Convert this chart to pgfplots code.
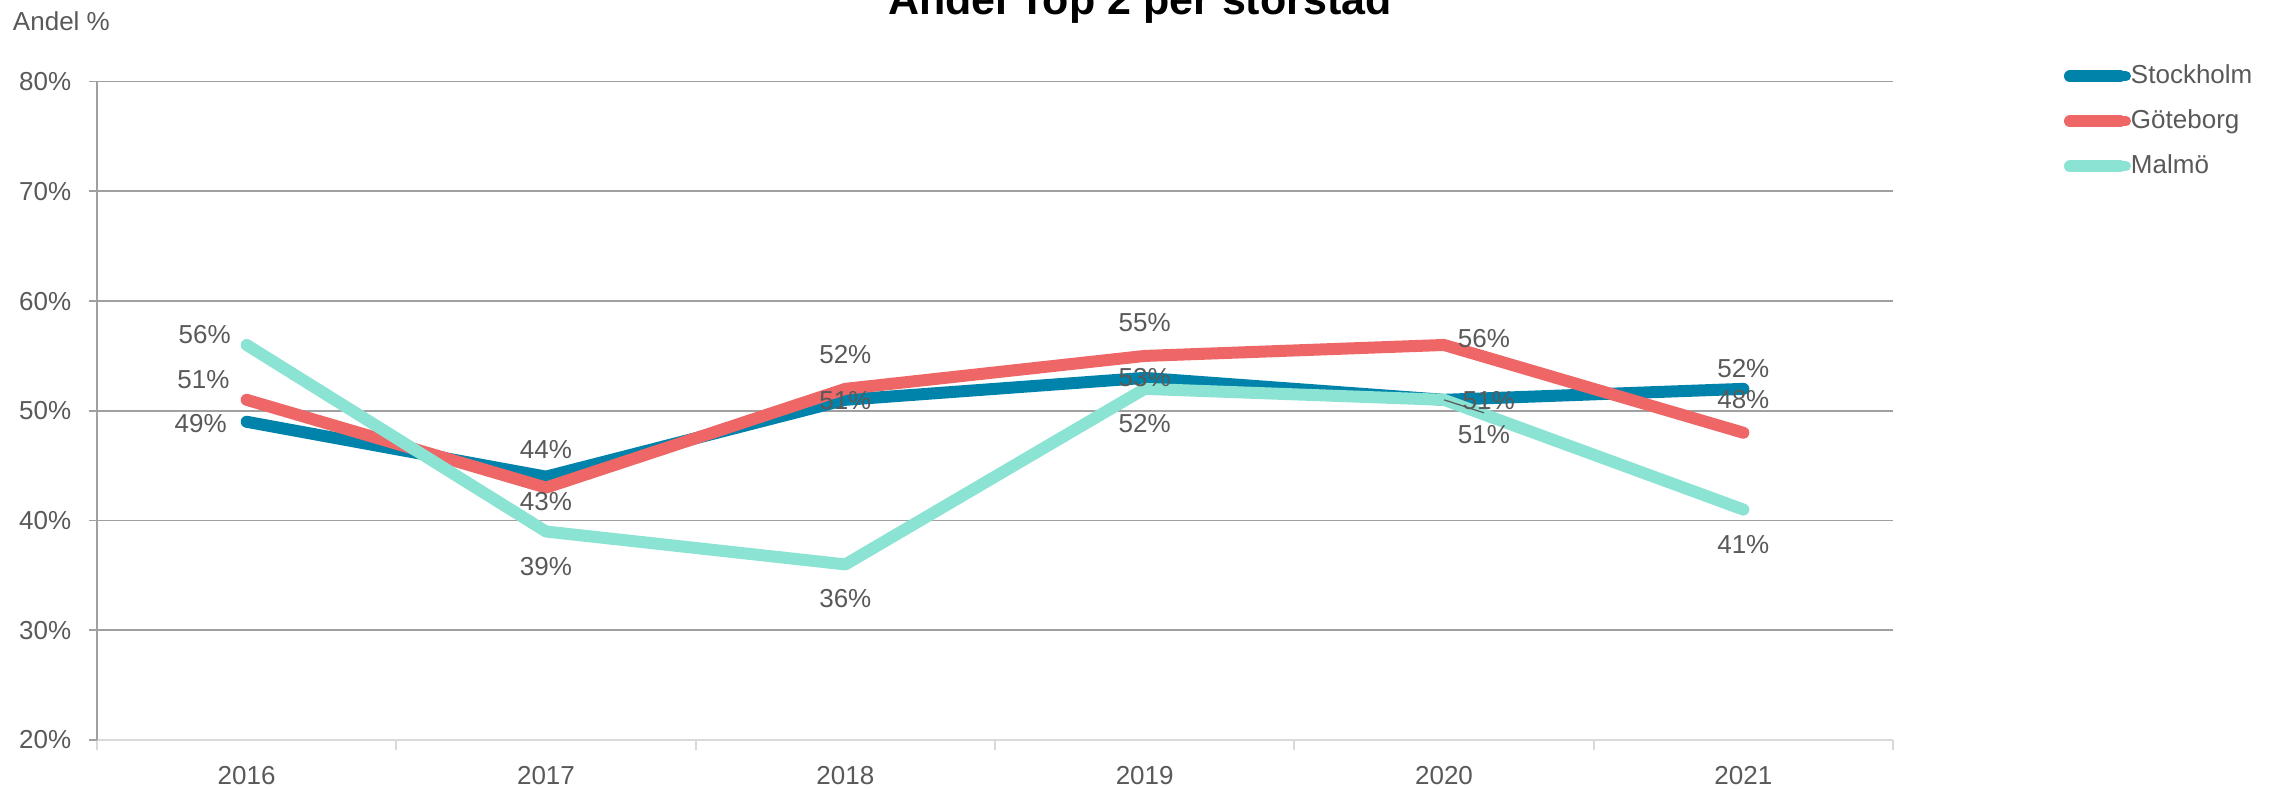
\documentclass[border=0pt]{standalone}
\usepackage{fontspec}
\setmainfont{Liberation Sans}
\usepackage{pgfplots}
\usepackage{pgfplotstable}
\pgfplotsset{compat=1.18}

\definecolor{stock}{HTML}{0083AB}
\definecolor{got}{HTML}{EE6666}
\definecolor{mal}{HTML}{8BE3D3}
\definecolor{labelgray}{HTML}{595959}
\definecolor{gridgray}{HTML}{A0A0A0}
\definecolor{axlight}{HTML}{D9D9D9}
\newcommand\lbl{\fontsize{13}{15.6}\selectfont}

% x = year index, y = share in %, dx/dy = label offset in pt
\pgfplotstableread{
x y dx dy
0 49 -23 -1
1 44 0 13.5
2 51 0 -0.5
3 53 0 0
4 51 22.3 -0.4
5 52 0 10.3
}\stockholm
\pgfplotstableread{
x y dx dy
0 51 -21.6 10.2
1 43 0 -7
2 52 0 17
3 55 0 16.5
4 56 20 3
5 48 0 16.5
}\goteborg
\pgfplotstableread{
x y dx dy
0 56 -21 5
1 39 0 -17.3
2 36 0 -17.3
3 52 0 -17.3
4 51 20 -17.2
5 41 0 -17.3
}\malmo

\pgfplotsset{
  citygraph/.style={line width=6pt, line cap=round, line join=round, mark=none},
  labelplot/.style={
    draw=none, mark=none, forget plot,
    point meta=\thisrow{y},
    nodes near coords={\pgfmathprintnumber{\pgfplotspointmeta}\%},
    visualization depends on={\thisrow{dx}\as\dx},
    visualization depends on={\thisrow{dy}\as\dy},
    every node near coord/.append style={anchor=center, inner sep=0pt,
      xshift=\dx pt, yshift=\dy pt, font=\lbl, text=labelgray},
  },
}

\begin{document}
\begin{tikzpicture}
\begin{axis}[
  scale only axis, width=898pt, height=329.2pt,
  clip=false,
  /pgf/number format/assume math mode=true,
  xmin=-0.5, xmax=5.5, ymin=20, ymax=80,
  xtick={0,...,5}, xticklabels={2016,2017,2018,2019,2020,2021},
  minor xtick={-0.5,0.5,...,5.5},
  ytick={20,30,...,80},
  yticklabels={20\%,30\%,40\%,50\%,60\%,70\%,80\%},
  axis x line*=bottom, axis y line*=left,
  x axis line style={draw=axlight, line width=0.85pt},
  y axis line style={draw=gridgray, line width=0.85pt},
  ymajorgrids, major grid style={draw=gridgray, line width=0.85pt},
  tick align=outside,
  major tick length=4pt, minor tick length=5pt,
  major x tick style={draw=none},
  minor x tick style={draw=axlight, line width=0.85pt},
  y tick style={draw=gridgray, line width=0.85pt},
  tick label style={font=\lbl, text=labelgray},
  xticklabel style={anchor=north, inner sep=0pt, yshift=-9.2pt},
  yticklabel style={anchor=east, inner sep=0pt, xshift=-8.7pt},
  legend style={draw=none, fill=none, inner sep=0pt, outer sep=0pt,
    at={(1.0952,1.0263)}, anchor=north west, row sep=10.5pt,
    nodes={inner sep=0pt, text height=9.5pt, text depth=2.5pt,
      text=labelgray, font=\lbl}},
  legend cell align=left,
  legend image code/.code={
    \path (0pt,0pt) -- (25pt,0pt);
    \draw[#1, line width=5pt, line cap=round] (2.5pt,0pt) -- (28pt,0pt);
  },
]
\addplot[citygraph, stock] table[x=x, y=y] {\stockholm};
\addlegendentry{Stockholm}
\addplot[citygraph, got] table[x=x, y=y] {\goteborg};
\addlegendentry{Göteborg}
\addplot[citygraph, mal] table[x=x, y=y] {\malmo};
\addlegendentry{Malmö}

\addplot[labelplot] table[x=x, y=y] {\stockholm};
\addplot[labelplot] table[x=x, y=y] {\goteborg};
\addplot[labelplot] table[x=x, y=y] {\malmo};

% leader line of the Stockholm 2020 label
\draw[labelgray, line width=0.6pt] (axis cs:4,51) -- ++(20pt,-6.5pt);
\end{axis}

\node[anchor=base, font=\bfseries\fontsize{21.5}{24}\selectfont, text=black]
  at (521.5pt,362.5pt) {Andel Top 2 per storstad};
\node[anchor=west, inner sep=0pt, font=\lbl, text=labelgray]
  at (-42.2pt,359.2pt) {Andel \%};

\pgfresetboundingbox
\path[use as bounding box] (-48.5pt,-24pt) rectangle (1091pt,370pt);
\end{tikzpicture}
\end{document}
